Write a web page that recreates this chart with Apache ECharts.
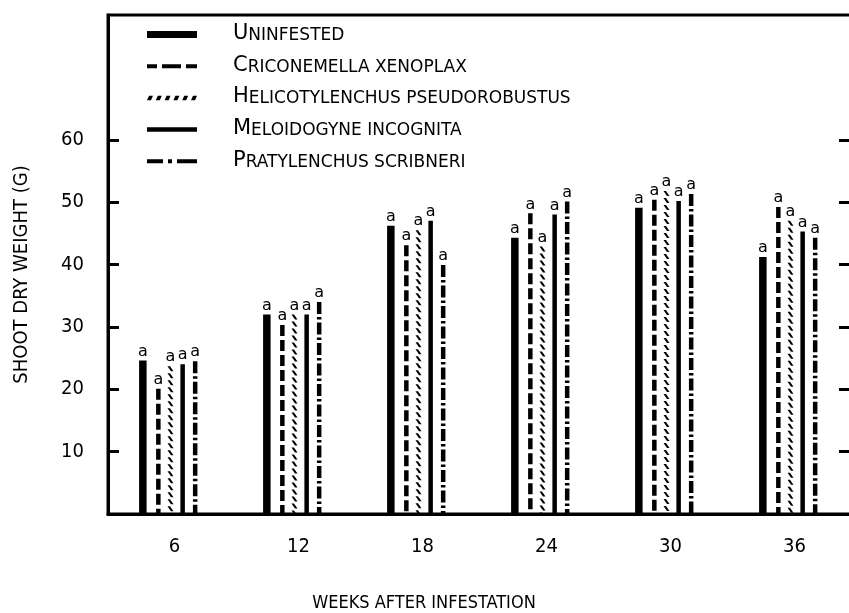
<!DOCTYPE html>
<html><head><meta charset="utf-8">
<script src="https://cdn.jsdelivr.net/npm/echarts@6/dist/echarts.min.js"></script>
<style>html,body{margin:0;padding:0;background:#fff}#c{width:849px;height:613px}</style>
</head><body><div id="c"></div>
<script>
// ---- data ----
const weeks = ['6', '12', '18', '24', '30', '36'];
const treatments = ['Uninfested', 'Criconemella xenoplax', 'Helicotylenchus pseudorobustus', 'Meloidogyne incognita', 'Pratylenchus scribneri'];
const uninfested      = [24.6, 32.0, 46.2, 44.3, 49.1, 41.2];
const criconemella    = [20.1, 30.3, 43.1, 48.2, 50.4, 49.2];
const helicotylenchus = [23.7, 32.0, 45.5, 42.9, 51.8, 47.0];
const meloidogyne     = [24.0, 32.0, 47.0, 48.0, 50.2, 45.3];
const pratylenchus    = [24.5, 34.0, 39.9, 50.1, 51.3, 44.3];
const significance    = ['a', 'a', 'a', 'a', 'a', 'a'];
const yTickValues     = [10, 20, 30, 40, 50, 60];
const xTitle = 'WEEKS AFTER INFESTATION';
const yTitle = 'SHOOT DRY WEIGHT (G)';

const seriesValues = [uninfested, criconemella, helicotylenchus, meloidogyne, pratylenchus];

// ---- styling ----
const FONT = "'DejaVu Sans Condensed', 'DejaVu Sans'";
const offsets = [-0.219, -0.094, 0.004, 0.102, 0.203];
const legendIcons = [
  'path://M0,0h50v7h-50z',
  'path://M0,0h10v4h-10z M15,0h19v4h-19z M39,0h11v4h-11z',
  'path://M2,0h4l-2,4.5h-4z M10.8,0h4l-2,4.5h-4z M19.6,0h4l-2,4.5h-4z M28.4,0h4l-2,4.5h-4z M37.2,0h4l-2,4.5h-4z M46,0h4l-2,4.5h-4z',
  'path://M0,0h50v4.5h-50z',
  'path://M0,0h16v4h-16z M21,0h4v4h-4z M30,0h20v4h-20z'
];

function makeRender(k) {
  return function (params, api) {
    const ci = api.value(0), v = api.value(1);
    const top = api.coord([ci, v]);
    const base = api.coord([ci, 0]);
    const band = api.size([1, 0])[0];
    const x = top[0] + offsets[k] * band;
    const y0 = top[1], y1 = base[1] + 2;
    const ch = [];
    if (k === 0) {
      ch.push({type: 'rect', shape: {x: x - 3.75, y: y0, width: 7.5, height: y1 - y0}, style: {fill: '#000'}});
    } else if (k === 1) {
      ch.push({type: 'line', shape: {x1: x, y1: y0, x2: x, y2: y1}, style: {stroke: '#000', lineWidth: 4.5, lineDash: [11, 4]}});
    } else if (k === 2) {
      for (let y = y0; y < y1 - 1; y += 7) {
        const h = Math.min(5, y1 - y);
        ch.push({type: 'polygon', shape: {points: [[x - 3, y], [x - 0.5, y], [x + 3, y + h], [x + 0.5, y + h]]}, style: {fill: '#000'}});
      }
    } else if (k === 3) {
      ch.push({type: 'rect', shape: {x: x - 2.25, y: y0, width: 4.5, height: y1 - y0}, style: {fill: '#000'}});
    } else {
      ch.push({type: 'line', shape: {x1: x, y1: y0, x2: x, y2: y1}, style: {stroke: '#000', lineWidth: 4.5, lineDash: [12, 3, 2.5, 3]}});
    }
    ch.push({type: 'text', x: x, y: y0 - 1, style: {text: significance[params.dataIndex], align: 'center', verticalAlign: 'bottom', fontSize: 16, fontFamily: 'DejaVu Sans', fill: '#000'}});
    return {type: 'group', children: ch};
  };
}

const chart = echarts.init(document.getElementById('c'));
chart.setOption({
  backgroundColor: '#fff',
  animation: false,
  grid: {left: 108, right: -3, top: 15, bottom: 99, outerBoundsMode: 'none', containLabel: false, show: true, borderColor: '#000', borderWidth: 3, backgroundColor: 'transparent'},
  legend: {
    orient: 'vertical', left: 142, top: 18, itemWidth: 50, itemHeight: 14, itemGap: 10.7,
    selectedMode: false,
    data: treatments.map((n, i) => ({name: n, icon: legendIcons[i]})),
    formatter: function (name) { return '{b|' + name[0] + '}{s|' + name.slice(1).toUpperCase() + '}'; },
    textStyle: {
      color: '#000', padding: [0, 0, 0, 31], lineHeight: 19,
      rich: {
        b: {fontSize: 21, fontFamily: 'DejaVu Sans', color: '#000', verticalAlign: 'bottom', lineHeight: 19},
        s: {fontSize: 17, fontFamily: 'DejaVu Sans', color: '#000', verticalAlign: 'bottom', lineHeight: 19}
      }
    }
  },
  xAxis: {
    type: 'category', data: weeks, boundaryGap: true, offset: 2,
    axisLine: {show: true, lineStyle: {color: '#000', width: 3}},
    axisTick: {show: false},
    axisLabel: {color: '#000', fontSize: 20, fontFamily: FONT, margin: 21, padding: [0, 0, 0, 9]},
    name: xTitle, nameLocation: 'middle', nameGap: 78,
    nameTextStyle: {color: '#000', fontSize: 18, fontFamily: FONT, padding: [0, 112, 0, 0]},
    splitLine: {show: false}
  },
  yAxis: [{
    type: 'value', min: 0, max: 80, interval: 10, position: 'left',
    axisLine: {show: true, lineStyle: {color: '#000', width: 3}},
    axisTick: {show: true, inside: true, length: 11, lineStyle: {color: '#000', width: 3}, customValues: yTickValues},
    axisLabel: {color: '#000', fontSize: 20, fontFamily: FONT, margin: 24, customValues: yTickValues},
    splitLine: {show: false},
    name: yTitle, nameLocation: 'middle', nameGap: 76,
    nameTextStyle: {color: '#000', fontSize: 20, fontFamily: FONT, padding: [0, 20, 0, 0]}
  }, {
    type: 'value', min: 0, max: 80, interval: 10, position: 'right',
    axisLine: {show: true, lineStyle: {color: '#000', width: 3}},
    axisTick: {show: true, inside: true, length: 13, lineStyle: {color: '#000', width: 3}, customValues: yTickValues},
    axisLabel: {show: false},
    splitLine: {show: false}
  }],
  series: treatments.map((n, k) => ({
    name: n, type: 'custom', xAxisIndex: 0, yAxisIndex: 0,
    itemStyle: {color: '#000'},
    encode: {x: 0, y: 1},
    data: seriesValues[k].map((v, i) => [i, v]),
    renderItem: makeRender(k)
  }))
});
</script></body></html>
